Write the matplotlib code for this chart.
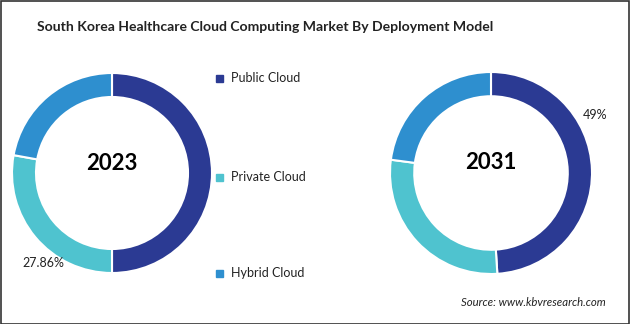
import matplotlib
matplotlib.use('Agg')
import matplotlib.pyplot as plt
from matplotlib.patches import Rectangle

# deployment model shares
SEGMENTS = ['Public Cloud', 'Private Cloud', 'Hybrid Cloud']
SHARE_2023 = [50.0, 27.86, 22.14]
SHARE_2031 = [49.0, 28.1, 22.9]
YEARS = ['2023', '2031']

COLORS = ['#2B3A93', '#4FC3CF', '#2E8FCF']
W, H = 630, 324

plt.rcParams['font.family'] = ['Lato', 'DejaVu Sans']

fig = plt.figure(figsize=(W / 100, H / 100), dpi=100, facecolor='white')


def px_axes(cx, cy, r):
    # cx, cy in image pixels (y from top), r = outer radius in px
    return fig.add_axes([(cx - r) / W, (H - cy - r) / H, 2 * r / W, 2 * r / H])


def donut(ax, shares, year):
    wedges, _ = ax.pie(shares, colors=COLORS, startangle=90, counterclock=False,
                       radius=1.0, wedgeprops=dict(width=0.24, edgecolor='white', linewidth=1.5))
    ax.set_xlim(-1, 1)
    ax.set_ylim(-1, 1)
    ax.text(0, 0.1, year, ha='center', va='center', fontsize=16, fontweight='bold', color='black')
    return wedges


ax1 = px_axes(112, 173, 100)
donut(ax1, SHARE_2023, YEARS[0])
ax1.text(-0.69, -0.9, f'{SHARE_2023[1]:.2f}%', ha='center', va='center', fontsize=9, color='#222222')

ax2 = px_axes(491, 173, 101)
donut(ax2, SHARE_2031, YEARS[1])
ax2.text(1.03, 0.57, f'{SHARE_2031[0]:.0f}%', ha='center', va='center', fontsize=9, color='#222222')

# legend, stacked vertically between the donuts
leg_y = [78, 177, 273]
for name, col, y in zip(SEGMENTS, COLORS, leg_y):
    fig.patches.append(Rectangle((216 / W, (H - y - 3.5) / H), 7 / W, 7 / H,
                                 transform=fig.transFigure, color=col))
    fig.text(231 / W, 1 - y / H, name, ha='left', va='center', fontsize=9, color='#222222')

fig.text(265 / W, 1 - 27 / H, 'South Korea Healthcare Cloud Computing Market By Deployment Model',
         ha='center', va='center', fontsize=10.1, fontweight='bold', color='#222222')
fig.text(606 / W, 1 - 303 / H, 'Source: www.kbvresearch.com', ha='right', va='center',
         fontsize=8.2, style='italic', color='#222222')

# thin frame around the whole picture
fig.patches.append(Rectangle((0.5 / W, 0.5 / H), 1 - 1.5 / W, 1 - 1.5 / H, transform=fig.transFigure,
                             fill=False, edgecolor='#333333', linewidth=1.2))

fig.savefig('out.png', dpi=100, facecolor='white')
